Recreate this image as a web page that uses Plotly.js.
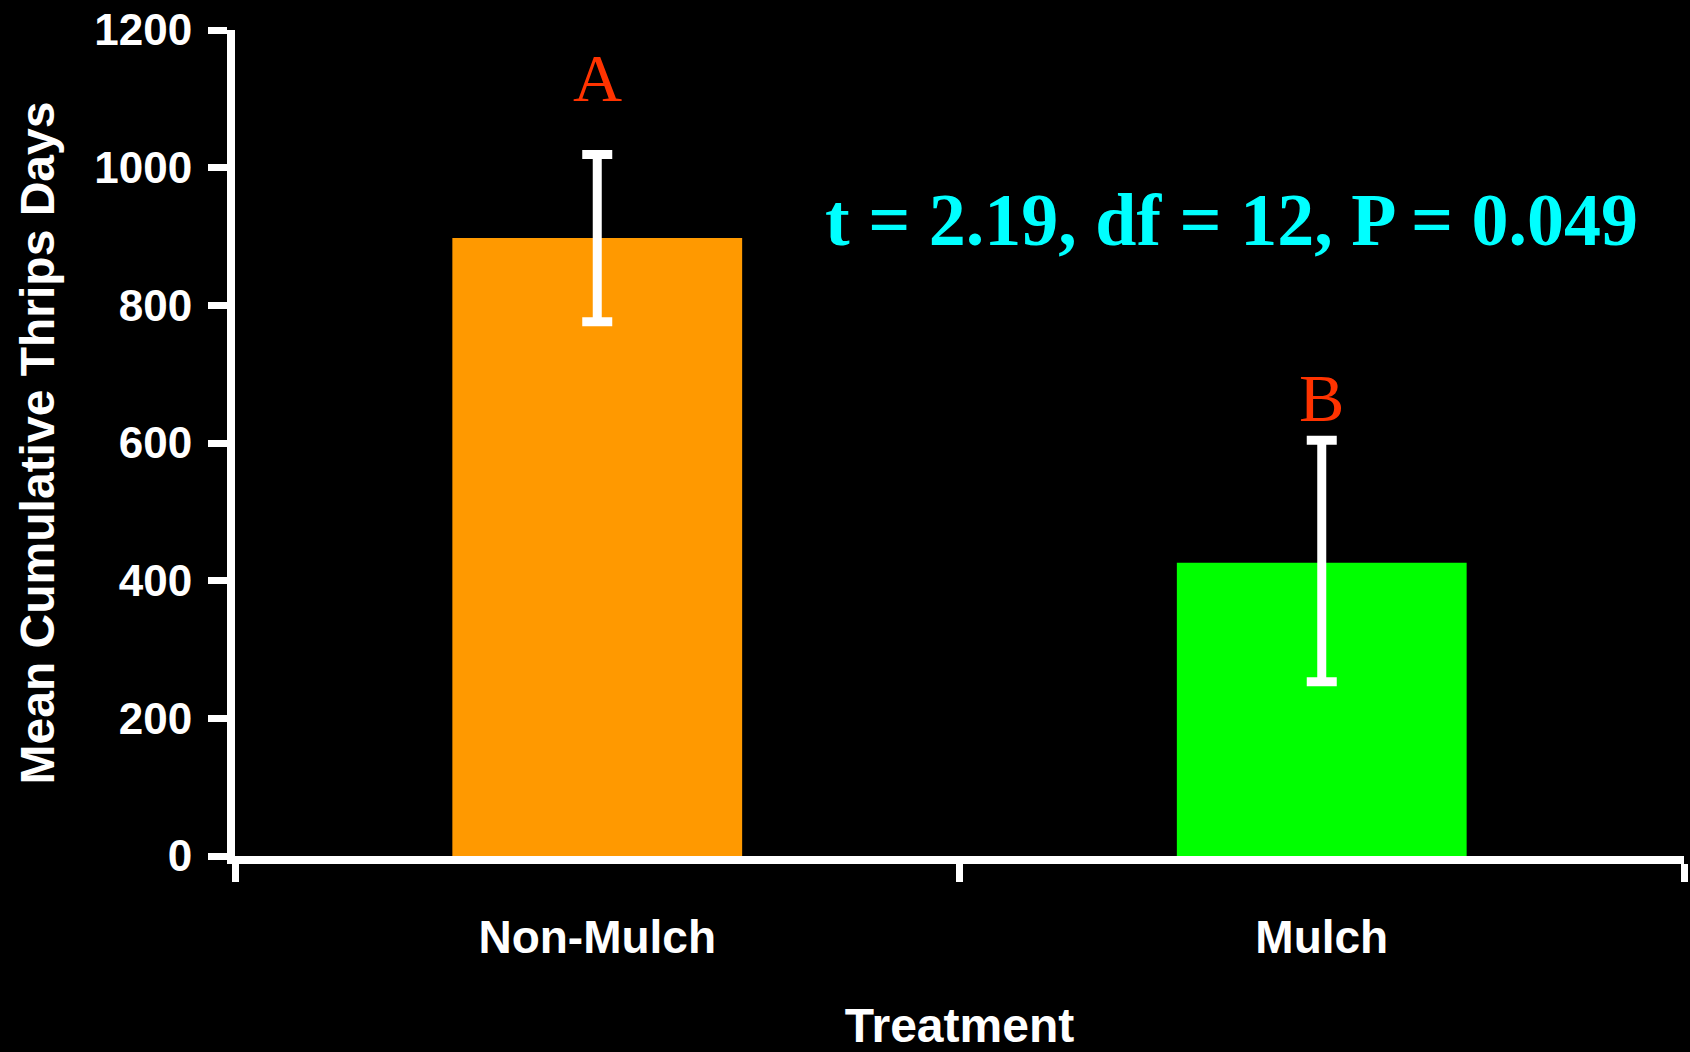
<!DOCTYPE html>
<html>
<head>
<meta charset="utf-8">
<script src="https://cdn.plot.ly/plotly-3.0.1.min.js"></script>
<style>html,body{margin:0;padding:0;background:#000;}#chart{width:1690px;height:1052px;}</style>
</head>
<body>
<div id="chart"></div>
<script>
// Data
const treatments = ["Non-Mulch", "Mulch"];
const meanThripsDays = [898, 426];
const errorUpper = [121, 178];
const errorLower = [122, 173];
const barColors = ["#FF9900", "#00FF00"];
const letters = ["A", "B"];
const letterY = [1131, 665];
const statText = "t = 2.19, df = 12, P = 0.049";
const yTickVals = [0, 200, 400, 600, 800, 1000, 1200];

const trace = {
  type: "bar",
  x: treatments,
  y: meanThripsDays,
  marker: {color: barColors, line: {width: 0}},
  error_y: {
    type: "data",
    symmetric: false,
    array: errorUpper,
    arrayminus: errorLower,
    color: "#FFFFFF",
    thickness: 9,
    width: 15
  },
  hoverinfo: "skip"
};

const annotations = letters.map((t, i) => ({
  x: treatments[i], y: letterY[i], xref: "x", yref: "y",
  text: t, showarrow: false, xanchor: "center", yanchor: "middle",
  font: {family: "Liberation Serif, Times New Roman, serif", size: 68, color: "#FF3300"}
}));
annotations.push({
  x: 0.875, y: 924, xref: "x", yref: "y",
  text: statText, showarrow: false, xanchor: "center", yanchor: "middle",
  font: {family: "Liberation Serif, Times New Roman, serif", size: 74, color: "#00FFFF", weight: 700}
});

const layout = {
  width: 1690, height: 1052,
  paper_bgcolor: "#000000", plot_bgcolor: "#000000",
  margin: {l: 235, r: 6, t: 30, b: 196},
  showlegend: false,
  bargap: 0.6,
  font: {family: "Liberation Sans, Arial, sans-serif", color: "#FFFFFF"},
  xaxis: {
    type: "category",
    range: [-0.5, 1.5],
    showline: true, linecolor: "#FFFFFF", linewidth: 8,
    ticks: "outside", tickson: "boundaries", ticklen: 18, tickwidth: 7, tickcolor: "#FFFFFF",
    showgrid: false, zeroline: false,
    tickfont: {size: 46, color: "#FFFFFF", weight: 700},
    ticklabelstandoff: 34,
    title: {text: "Treatment", font: {size: 48, color: "#FFFFFF", weight: 700}, standoff: 59}
  },
  yaxis: {
    range: [0, 1200],
    tickvals: yTickVals,
    showline: true, linecolor: "#FFFFFF", linewidth: 8,
    ticks: "outside", ticklen: 19, tickwidth: 7, tickcolor: "#FFFFFF",
    showgrid: false, zeroline: false,
    tickfont: {size: 44, color: "#FFFFFF", weight: 700},
    ticklabelstandoff: 7,
    title: {text: "Mean Cumulative Thrips Days", font: {size: 48, color: "#FFFFFF", weight: 700}, standoff: 28}
  },
  annotations: annotations
};

Plotly.newPlot("chart", [trace], layout, {displayModeBar: false, staticPlot: true});
</script>
</body>
</html>
